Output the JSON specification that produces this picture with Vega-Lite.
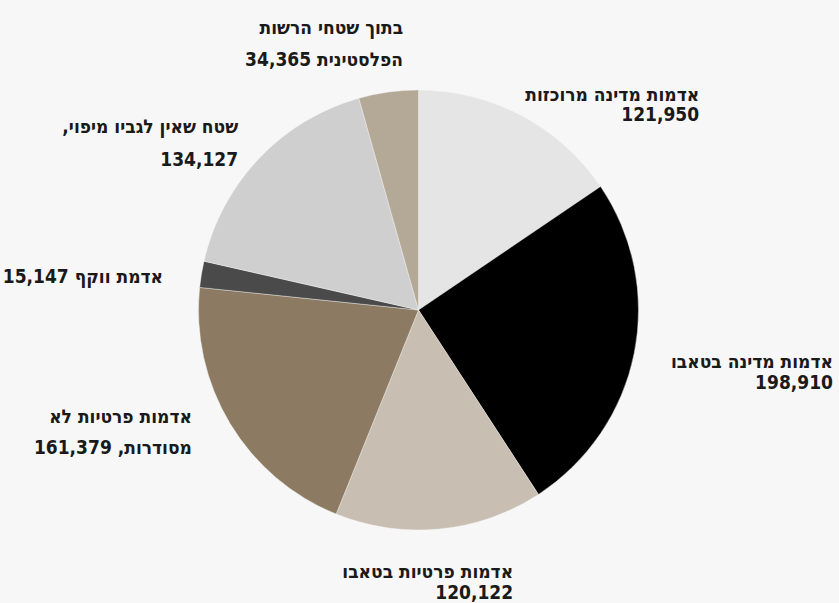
{
  "$schema": "https://vega.github.io/schema/vega-lite/v6.json",
  "width": 837,
  "height": 586,
  "autosize": "none",
  "padding": {"left": 0, "top": 17, "right": 2, "bottom": 0},
  "background": "#f7f7f7",
  "config": {
    "view": {"stroke": null},
    "font": "DejaVu Sans Condensed"
  },
  "data": {
    "values": [
      {"idx": 0, "name": "אדמות מדינה מרוכזות", "area": 121950, "label": "אדמות מדינה מרוכזות\n121,950"},
      {"idx": 1, "name": "אדמות מדינה בטאבו", "area": 198910, "label": "אדמות מדינה בטאבו\n198,910"},
      {"idx": 2, "name": "אדמות פרטיות בטאבו", "area": 120122, "label": "אדמות פרטיות בטאבו\n120,122"},
      {"idx": 3, "name": "אדמות פרטיות לא מסודרות", "area": 161379, "label": "אדמות פרטיות לא\n161,379 ,מסודרות"},
      {"idx": 4, "name": "אדמת ווקף", "area": 15147, "label": "15,147 אדמת ווקף"},
      {"idx": 5, "name": "שטח שאין לגביו מיפוי", "area": 134127, "label": ",שטח שאין לגביו מיפוי\n134,127"},
      {"idx": 6, "name": "בתוך שטחי הרשות הפלסטינית", "area": 34365, "label": "בתוך שטחי הרשות\n34,365 הפלסטינית"}
    ]
  },
  "encoding": {
    "theta": {"field": "area", "type": "quantitative", "stack": true},
    "order": {"field": "idx", "type": "quantitative"},
    "detail": {"field": "name", "type": "nominal"}
  },
  "layer": [
    {
      "mark": {"type": "arc", "outerRadius": 220, "stroke": "#f7f7f7", "strokeWidth": 0.4},
      "encoding": {
        "color": {
          "field": "name",
          "type": "nominal",
          "legend": null,
          "scale": {
            "domain": ["אדמות מדינה מרוכזות", "אדמות מדינה בטאבו", "אדמות פרטיות בטאבו", "אדמות פרטיות לא מסודרות", "אדמת ווקף", "שטח שאין לגביו מיפוי", "בתוך שטחי הרשות הפלסטינית"],
            "range": ["#e5e5e5", "#000000", "#c8beb1", "#8c7b62", "#4a4a4a", "#cfcfcf", "#b4a996"]
          }
        },
        "tooltip": [
          {"field": "name", "type": "nominal"},
          {"field": "area", "type": "quantitative", "format": ","}
        ]
      }
    },
    {
      "mark": {"type": "text", "radius": 220, "align": "right", "baseline": "middle", "dx": 177.6, "dy": -20.6, "lineBreak": "\n", "lineHeight": 20, "fontSize": 19, "fontWeight": "bold", "fill": "#1a1a1a"},
      "encoding": {"text": {"condition": {"test": "datum.idx === 0", "field": "label"}, "value": ""}}
    },
    {
      "mark": {"type": "text", "radius": 220, "align": "right", "baseline": "middle", "dx": 198.8, "dy": 8.5, "lineBreak": "\n", "lineHeight": 21, "fontSize": 19, "fontWeight": "bold", "fill": "#1a1a1a"},
      "encoding": {"text": {"condition": {"test": "datum.idx === 1", "field": "label"}, "value": ""}}
    },
    {
      "mark": {"type": "text", "radius": 220, "align": "right", "baseline": "middle", "dx": 73.4, "dy": 43, "lineBreak": "\n", "lineHeight": 21, "fontSize": 19, "fontWeight": "bold", "fill": "#1a1a1a"},
      "encoding": {"text": {"condition": {"test": "datum.idx === 2", "field": "label"}, "value": ""}}
    },
    {
      "mark": {"type": "text", "radius": 220, "align": "right", "baseline": "middle", "dx": -38.1, "dy": -6.6, "lineBreak": "\n", "lineHeight": 31, "fontSize": 19, "fontWeight": "bold", "fill": "#1a1a1a"},
      "encoding": {"text": {"condition": {"test": "datum.idx === 3", "field": "label"}, "value": ""}}
    },
    {
      "mark": {"type": "text", "radius": 220, "align": "right", "baseline": "middle", "dx": -38.4, "dy": 2.9, "lineBreak": "\n", "lineHeight": 31, "fontSize": 19, "fontWeight": "bold", "fill": "#1a1a1a"},
      "encoding": {"text": {"condition": {"test": "datum.idx === 4", "field": "label"}, "value": ""}}
    },
    {
      "mark": {"type": "text", "radius": 220, "align": "right", "baseline": "middle", "dx": -20.9, "dy": -31.6, "lineBreak": "\n", "lineHeight": 33, "fontSize": 19, "fontWeight": "bold", "fill": "#1a1a1a"},
      "encoding": {"text": {"condition": {"test": "datum.idx === 5", "field": "label"}, "value": ""}}
    },
    {
      "mark": {"type": "text", "radius": 220, "align": "right", "baseline": "middle", "dx": 14.7, "dy": -64.1, "lineBreak": "\n", "lineHeight": 32, "fontSize": 19, "fontWeight": "bold", "fill": "#1a1a1a"},
      "encoding": {"text": {"condition": {"test": "datum.idx === 6", "field": "label"}, "value": ""}}
    }
  ]
}
